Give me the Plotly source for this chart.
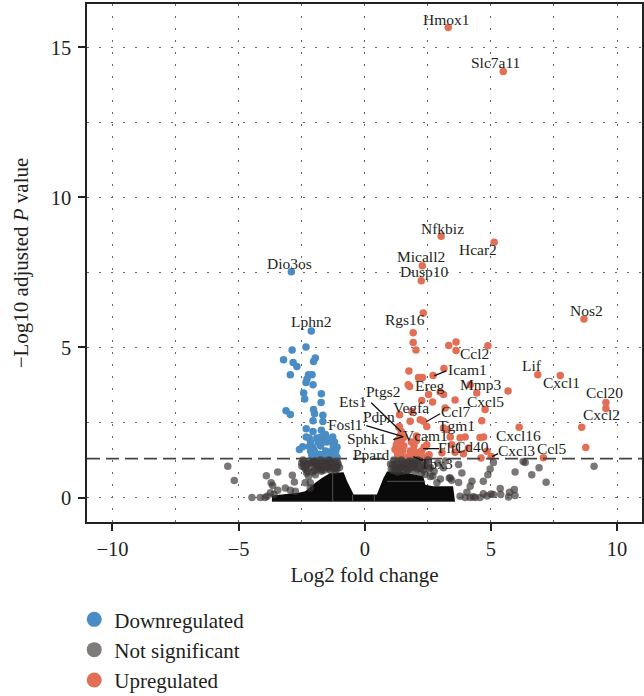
import plotly.graph_objects as go

# ---- data (log2FC, -log10 p) ----
up_x = [3.31,5.49,3.03,5.13,2.28,2.24,2.32,8.69,1.92,1.92,2.03,3.33,3.62,3.62,4.88,6.86,7.75,9.56,9.56,8.6,8.76,6.12,7.08,
        3.14,1.75,2.13,2.29,1.72,1.78,2.71,4.44,5.68,4.18,2.99,2.53,2.26,2.69,3.58,3.12,1.37,4.77,4.64,1.87,1.8,2.2,2.33,2.46,3.12,3.19,1.38,
        4.71,4.57,3.98,3.78,3.39,3.26,4.11,3.91,3.58,4.61,5.01,4.84,2.55,2.46,3.06,3.45,
        1.3,1.4,1.55,1.7,1.85,2.0,2.2,2.4,1.2,1.35,1.5,1.8,2.05,2.25,1.25,1.4,1.55,1.95,2.35,1.3,1.45,1.85,2.05,1.4,1.55,2.05,1.45,1.35]
up_y = [15.66,14.2,8.71,8.51,7.72,7.22,6.15,5.95,5.49,5.17,4.92,5.07,5.18,4.9,5.06,4.09,4.07,3.17,2.97,2.34,1.67,2.34,1.33,
        4.3,4.22,4.0,4.0,3.76,3.7,4.07,3.48,3.55,3.76,3.52,3.43,3.23,3.18,3.25,3.43,2.37,2.93,2.56,2.87,2.54,2.59,2.54,2.37,2.32,2.98,2.76,
        2.02,2.0,2.02,1.99,2.02,2.26,1.65,1.46,1.51,1.32,1.37,1.54,1.43,1.76,1.49,1.76,
        1.45,1.35,1.33,1.35,1.33,1.36,1.33,1.35,1.6,1.6,1.55,1.55,1.5,1.55,1.75,1.75,1.72,1.72,1.68,1.9,1.9,1.85,1.9,2.05,2.0,2.05,2.2,2.35]

down_x = [-2.91,-2.12,-2.33,-2.88,-3.22,-2.84,-2.69,-1.96,-2.03,-2.95,-2.09,-2.23,-2.29,-2.33,-2.05,-1.72,-2.42,-2.38,-1.73,-3.12,-2.95,-2.03,-1.99,-2.05,-1.66,-1.66,-2.32,-2.05,-1.72,-2.32,-1.56,-1.27,-2.46,-2.59,
          -2.2,-1.9,-1.75,-1.6,-1.45,-1.3,-2.15,-1.85,-1.7,-1.5,-1.2,-2.2,-2.05,-1.75,-1.25,-1.1,-2.15,-2.0,-1.55,-1.4,-1.25,-1.15,-2.1,-1.95,-1.8,-1.65,-1.3,-2.05,-1.9,-1.75,-1.6,-1.45,-1.3,-1.2,-1.1]
down_y = [7.52,5.55,5.02,4.92,4.59,4.5,4.37,4.65,4.53,4.09,4.09,4.09,3.95,3.83,3.76,3.46,3.48,3.28,3.17,2.89,2.77,2.93,2.79,2.56,2.74,2.53,2.29,2.2,2.24,2.02,2.1,2.02,1.69,1.6,
          1.98,1.98,2.0,1.95,1.95,1.88,1.85,1.85,1.83,1.85,1.85,1.7,1.68,1.72,1.7,1.68,1.55,1.55,1.55,1.52,1.55,1.54,1.42,1.42,1.44,1.42,1.4,1.33,1.33,1.34,1.33,1.33,1.34,1.33,1.34]

ns_x = [-5.43,-5.17,-3.9,-3.45,-2.87,-2.79,-3.71,-3.65,-3.15,-3.45,-2.95,-2.75,-4.47,-4.14,-3.87,-3.95,-3.74,-3.6,
        -2.42,-2.3,-2.49,-1.96,-2.23,-2.16,-2.36,-2.16,-2.45,-2.2,-2.05,-1.9,-1.75,-1.6,-1.45,-1.3,-1.15,-2.35,-2.1,-1.85,-1.65,-1.45,-1.25,-1.95,-1.7,-1.5,-1.3,-1.1,-2.5,-2.3,-2.05,
        -2.12,-1.98,-1.82,-1.68,-1.52,-1.38,-1.22,-1.08,-1.0,-2.4,-2.25,-1.92,-1.78,-1.58,-1.42,-1.18,-2.0,-1.8,-1.6,-1.4,-1.2,-1.05,-2.28,-1.88,-1.72,-1.55,-1.35,-1.12,
        1.15,1.3,1.45,1.6,1.75,1.9,2.1,2.3,2.5,1.2,1.4,1.55,1.7,1.95,2.2,2.45,1.05,1.3,1.5,1.75,2.0,2.25,2.6,2.9,3.2,3.72,3.12,2.75,3.35,
        1.1,1.25,1.38,1.52,1.68,1.82,1.98,2.15,2.38,1.12,1.35,1.62,1.85,2.08,2.32,1.02,1.22,1.45,1.68,1.92,2.12,2.4,1.18,1.42,1.65,2.02,2.55,2.7,
        5.1,4.97,4.88,4.7,4.18,4.25,3.85,3.72,3.39,3.45,2.86,2.6,3.0,6.36,5.96,6.62,7.19,5.37,5.74,5.93,5.39,5.1,5.96,5.7,4.7,4.57,4.38,4.18,4.05,3.78,3.98,4.85,5.0,4.3,6.91,9.09,6.28]
ns_y = [1.04,0.57,0.73,0.85,0.74,0.52,0.49,0.4,0.32,0.24,0.24,0.21,0.0,0.0,0.04,0.0,0.16,0.1,
        1.21,1.1,1.04,0.76,0.71,0.49,0.49,0.32,1.25,1.22,1.2,1.18,1.25,1.2,1.24,1.18,1.2,0.95,1.0,0.95,1.05,1.02,1.0,1.1,0.92,1.1,1.12,0.95,1.15,0.82,0.85,
        1.15,1.22,1.08,1.18,1.12,1.24,1.08,1.18,1.0,1.02,1.12,1.2,0.98,1.14,0.96,0.9,0.9,1.02,0.92,1.06,0.98,1.1,0.88,1.08,0.88,1.0,0.9,1.05,
        1.25,1.15,1.25,1.1,1.22,1.12,1.25,1.15,1.25,1.0,0.98,1.05,0.92,1.02,0.98,1.12,0.95,0.85,0.88,0.9,0.86,0.82,1.0,1.15,1.22,1.1,0.99,0.88,0.65,
        1.1,1.22,1.02,1.18,1.06,1.2,1.08,1.2,1.05,0.9,0.94,0.98,1.0,0.95,0.92,1.12,0.92,1.1,1.15,1.15,1.05,0.78,1.06,0.98,0.9,1.22,0.95,0.72,
        1.17,0.95,0.76,0.54,0.38,0.54,0.82,0.5,0.65,0.58,0.49,0.7,0.62,1.17,0.85,0.76,0.51,0.3,0.18,0.27,0.1,0.1,0.07,0.02,0.13,0.0,0.0,0.0,0.18,0.04,0.0,0.05,0.12,0.03,0.99,1.04,1.2]

mass_x = [-3.68,-3.68,-2.62,-2.36,-1.96,-1.7,-1.37,-0.84,-0.7,-0.44,0.35,0.48,0.74,0.88,1.41,2.32,2.4,2.71,3.5,3.58,-3.68]
mass_y = [-0.13,0.07,0.16,0.21,0.49,0.65,0.82,0.84,0.54,0.1,0.1,0.1,0.65,0.87,0.86,0.71,0.43,0.38,0.38,-0.13,-0.13]
seam_x = [-3.68,3.58,None,-1.27,-1.27,None,-0.48,-0.48,None,0.38,0.38,None,0.88,2.4]
seam_y = [-0.13,-0.13,None,-0.13,0.82,None,-0.13,0.1,None,-0.13,0.1,None,0.54,0.54]

labels = ["Hmox1","Slc7a11","Nfkbiz","Hcar2","Micall2","Dusp10","Dio3os","Lphn2","Rgs16","Nos2","Ccl2","Icam1","Lif","Cxcl1","Ereg","Mmp3","Ptgs2","Cxcl5","Ets1","Vegfa","Ccl7","Pdpn","Tgm1","Fosl1","Sphk1","Vcam1","Cxcl16","Cd40","Flt1","Cxcl3","Ccl5","Ppard","Tbx3","Ccl20","Cxcl2"]
label_px = [(446,19),(495,62),(442,228),(478,249),(421,256),(424,272),(289,263),(311,322),(405,320),(586,311),(474,354),(467,370),(532,366),(561,383),(430,386),(481,385),(383,392),(485,402),(353,402),(411,408),(456,412),(379,417),(456,426),(345,425),(367,439),(425,436),(518,436),(472,447),(450,448),(516,451),(552,449),(371,455),(436,464),(604,393),(601,415)]
leader_px = [((434,376),(446,371)),((426,422),(440,414)),((371,403),(401,432)),((366,426),(403,437)),((393,440),(403,437)),((423,449),(439,449)),((413,457),(423,461)),((492,457),(498,454))]

BLUE, RED, GREY = "#4A8CC4", "#E26F55", "#7F7B7A"
L, R, T, B = 86.5, 642.0, 3.5, 522.5
X0, XS = 364.5, 25.25
Y0, YS = 498.0, 30.07
dx = lambda p: (p - X0) / XS
dy = lambda p: (Y0 - p) / YS
FONT = "Liberation Serif"
INK = "#231f20"

fig = go.Figure()
marker = lambda c: dict(color=c, size=7.5, line=dict(width=0))
fig.add_trace(go.Scatter(x=down_x, y=down_y, mode="markers", marker=marker(BLUE), showlegend=False))
fig.add_trace(go.Scatter(x=up_x, y=up_y, mode="markers", marker=marker(RED), showlegend=False))
fig.add_trace(go.Scatter(x=mass_x, y=mass_y, mode="lines", fill="toself", fillcolor="#0a0a0a", line=dict(width=0), showlegend=False))
fig.add_trace(go.Scatter(x=ns_x, y=ns_y, mode="markers", marker=marker("rgba(60,55,55,0.68)"), showlegend=False))
fig.add_trace(go.Scatter(x=seam_x, y=seam_y, mode="lines", line=dict(color="#555", width=1), showlegend=False))
for name, c in [("Downregulated", BLUE), ("Not significant", GREY), ("Upregulated", RED)]:
    fig.add_trace(go.Scatter(x=[None], y=[None], mode="markers", name=name, marker=dict(color=c, size=15, line=dict(width=0))))

fig.add_hline(y=1.3, line=dict(color="#444", width=1.7, dash="13px,6px"))

for t, (px, py) in zip(labels, label_px):
    fig.add_annotation(x=dx(px), y=dy(py), text=t, showarrow=False, font=dict(family=FONT, size=15.5, color=INK), xanchor="center", yanchor="middle")
for (a, b) in leader_px:
    fig.add_shape(type="line", x0=dx(a[0]), y0=dy(a[1]), x1=dx(b[0]), y1=dy(b[1]), line=dict(color="#111", width=1.3))

grid = dict(showgrid=True, gridcolor="#666", gridwidth=1.4, griddash="1.5px,10.5px", zeroline=False,
            showline=True, mirror=True, linecolor="#222", linewidth=1.5, ticks="outside", ticklen=7, tickwidth=1.5, tickcolor="#222",
            tickfont=dict(family=FONT, size=20.5, color=INK), dtick=5, tick0=0,
            minor=dict(dtick=2.5, tick0=0, showgrid=True, gridcolor="#666", gridwidth=1.4, griddash="1.5px,10.5px", ticks=""))
fig.update_xaxes(range=[dx(L), dx(R)], ticklabelstandoff=1, title=dict(text="Log2 fold change", font=dict(family=FONT, size=21, color=INK), standoff=8), **grid)
fig.update_yaxes(range=[dy(B), dy(T)], ticklabelstandoff=3, title=dict(text="−Log10 adjusted <i>P</i> value", font=dict(family=FONT, size=21, color=INK), standoff=16), **grid)
fig.update_layout(width=644, height=696, margin=dict(l=L, r=644-R, t=T, b=696-B, pad=0, autoexpand=False),
                  paper_bgcolor="white", plot_bgcolor="white",
                  legend=dict(x=-0.023, y=-0.149, xanchor="left", yanchor="top", font=dict(family=FONT, size=21, color=INK), bgcolor="rgba(0,0,0,0)", itemsizing="trace", itemwidth=30, tracegroupgap=0))
fig.write_html("out.html", config={"displayModeBar": False}, post_script="document.body.style.margin='0';")
